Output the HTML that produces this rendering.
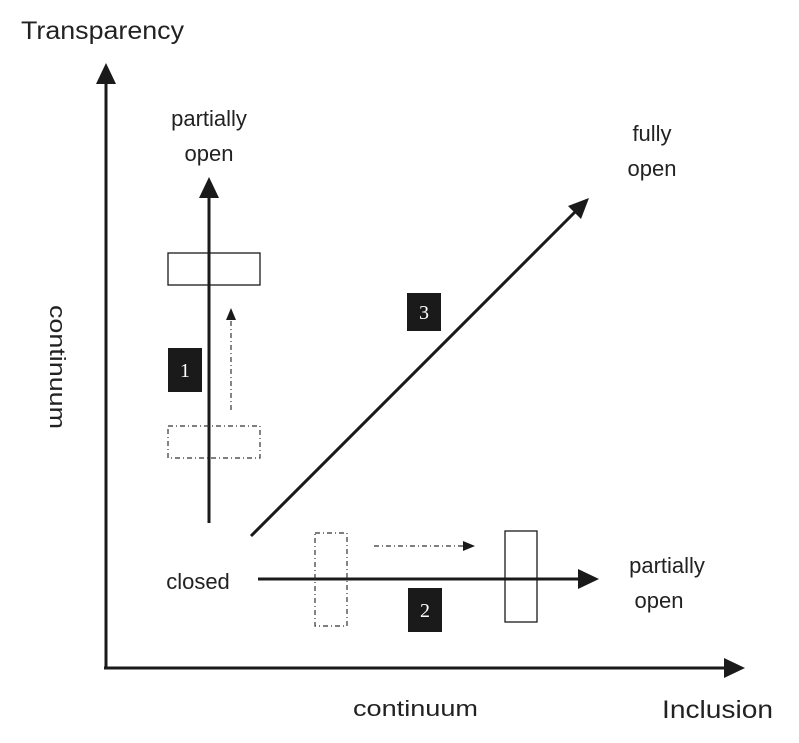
<!DOCTYPE html>
<html><head><meta charset="utf-8"><style>html,body{margin:0;padding:0;background:#fff}svg{display:block}</style></head>
<body>
<svg width="799" height="743" viewBox="0 0 799 743" xmlns="http://www.w3.org/2000/svg" font-family="Liberation Sans, sans-serif" fill="#222">
<g stroke="#1a1a1a" stroke-width="3" fill="none">
<line x1="106" y1="668" x2="106" y2="80"/>
<line x1="104" y1="668" x2="728" y2="668"/>
<line x1="209" y1="523" x2="209" y2="195"/>
<line x1="251" y1="536" x2="576" y2="211"/>
<line x1="258" y1="579" x2="582" y2="579"/>
</g>
<g fill="#1a1a1a">
<polygon points="106,63 96,84 116,84"/>
<polygon points="745,668 724,658 724,678"/>
<polygon points="209,177 199,198 219,198"/>
<polygon points="589,198 568,206 581,219"/>
<polygon points="599,579 578,569 578,589"/>
<polygon points="231,308 226,320 236,320"/>
<polygon points="475,546 463,541 463,551"/>
</g>
<g stroke="#1a1a1a" stroke-width="1.3" fill="none">
<rect x="168" y="253" width="92" height="32"/>
<rect x="505" y="531" width="32" height="91"/>
</g>
<g stroke="#333" stroke-width="1.2" fill="none" stroke-dasharray="5,3,1,3">
<rect x="168" y="426" width="92" height="32"/>
<rect x="315" y="533" width="32" height="93"/>
<line x1="231" y1="410" x2="231" y2="320"/>
<line x1="374" y1="546" x2="463" y2="546"/>
</g>
<g fill="#1a1a1a">
<rect x="168" y="348" width="34" height="44"/>
<rect x="407" y="293" width="34" height="38"/>
<rect x="408" y="588" width="34" height="44"/>
</g>
<g fill="#fff" font-family="Liberation Serif, serif" font-size="20" text-anchor="middle">
<text x="185" y="377">1</text>
<text x="424" y="319">3</text>
<text x="425" y="617">2</text>
</g>
<g font-size="22" fill="#222">
<text x="21" y="39" font-size="25" textLength="163" lengthAdjust="spacingAndGlyphs">Transparency</text>
<text x="662" y="718" font-size="25" textLength="111" lengthAdjust="spacingAndGlyphs">Inclusion</text>
<text x="353" y="716" textLength="125" lengthAdjust="spacingAndGlyphs">continuum</text>
<text transform="translate(50,305) rotate(90)" textLength="124" lengthAdjust="spacingAndGlyphs">continuum</text>
<text x="209" y="126" text-anchor="middle">partially</text>
<text x="209" y="161" text-anchor="middle">open</text>
<text x="652" y="141" text-anchor="middle">fully</text>
<text x="652" y="176" text-anchor="middle">open</text>
<text x="198" y="589" text-anchor="middle">closed</text>
<text x="667" y="573" text-anchor="middle">partially</text>
<text x="659" y="608" text-anchor="middle">open</text>
</g>
</svg>
</body></html>
